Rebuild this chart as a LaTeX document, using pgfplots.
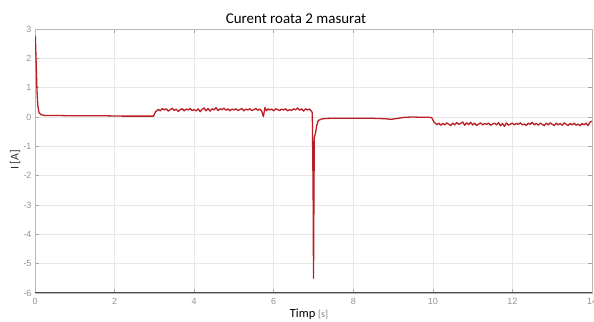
\documentclass[border=0pt]{standalone}
\usepackage{fontspec}
\setmainfont{Carlito}
\newfontfamily\tickfont{Liberation Sans}
\usepackage{pgfplots}
\pgfplotsset{compat=1.18}
\definecolor{curve}{RGB}{184,30,34}
\begin{document}
\begin{tikzpicture}
\begin{axis}[
  scale only axis, width=557bp, height=264bp,
  xmin=0, xmax=14, ymin=-6, ymax=3,
  xtick={0,2,...,14}, ytick={-6,-5,...,3},
  grid=major, grid style={gray!18, line width=0.5pt},
  axis line style={gray!55, line width=0.6pt},
  tick style={gray!70, line width=0.6pt},
  major tick length=4bp,
  tick align=inside,
  /pgf/number format/assume math mode=true,
  ticklabel style={font=\tickfont\fontsize{9}{9}\selectfont, text=gray!85},
  xticklabel style={yshift=-2bp},
]
\coordinate (sw) at (rel axis cs:0,0);
\coordinate (ne) at (rel axis cs:1,1);
\addplot[curve, line width=1.3bp, line join=round] coordinates {
(0,2.75)(0.01,2.72)(0.03,1.8)(0.05,0.9)(0.07,0.4)(0.1,0.15)(0.15,0.08)(0.25,0.05)
(0.6,0.05)(1.0,0.04)(1.4,0.045)(1.8,0.04)(2.2,0.03)(2.6,0.03)(2.98,0.03)
(3.03,0.18)(3.10,0.26)(3.15,0.21)(3.20,0.29)(3.25,0.24)(3.30,0.28)(3.35,0.20)(3.40,0.25)(3.45,0.30)
(3.50,0.22)(3.55,0.27)(3.60,0.19)(3.65,0.25)(3.70,0.28)(3.75,0.21)(3.80,0.27)(3.85,0.24)(3.90,0.29)
(3.95,0.22)(4.00,0.25)(4.05,0.21)(4.10,0.28)(4.15,0.18)(4.20,0.26)(4.25,0.31)(4.30,0.21)(4.35,0.29)
(4.40,0.20)(4.45,0.28)(4.50,0.24)(4.55,0.32)(4.60,0.22)(4.65,0.28)(4.70,0.25)(4.75,0.30)(4.80,0.23)
(4.85,0.28)(4.90,0.21)(4.95,0.27)(5.00,0.24)(5.05,0.28)(5.10,0.22)(5.15,0.25)(5.20,0.29)(5.25,0.21)
(5.30,0.27)(5.35,0.24)(5.40,0.28)(5.45,0.22)(5.50,0.25)(5.55,0.29)(5.60,0.23)(5.65,0.27)(5.70,0.19)
(5.74,0.02)(5.78,0.32)(5.82,0.21)(5.86,0.28)(5.90,0.24)(5.95,0.27)(6.00,0.21)(6.05,0.28)(6.10,0.25)
(6.15,0.22)(6.20,0.27)(6.25,0.24)(6.30,0.28)(6.35,0.21)(6.40,0.25)(6.45,0.22)(6.50,0.28)(6.55,0.24)
(6.60,0.31)(6.65,0.23)(6.70,0.28)(6.75,0.20)(6.80,0.28)(6.85,0.24)(6.90,0.27)(6.94,0.21)
(6.97,0.15)(6.99,-2.5)(7.00,-5.5)(7.01,-3.0)(7.02,-0.7)(7.05,-0.55)(7.08,-0.3)(7.12,-0.12)(7.2,-0.07)(7.3,-0.05)
(7.6,-0.04)(8.0,-0.04)(8.4,-0.04)(8.8,-0.06)(8.95,-0.08)(9.1,-0.05)(9.3,-0.01)(9.5,0.0)(9.7,-0.01)(9.9,-0.01)(9.97,-0.02)
(10.03,-0.18)(10.05,-0.20)(10.10,-0.26)(10.15,-0.21)(10.20,-0.28)(10.25,-0.22)(10.30,-0.27)(10.35,-0.20)
(10.40,-0.25)(10.45,-0.29)(10.50,-0.21)(10.55,-0.27)(10.60,-0.19)(10.65,-0.25)(10.70,-0.22)(10.75,-0.17)
(10.80,-0.28)(10.85,-0.20)(10.90,-0.26)(10.95,-0.18)(11.00,-0.27)(11.05,-0.21)(11.10,-0.29)(11.15,-0.24)
(11.20,-0.20)(11.25,-0.27)(11.30,-0.22)(11.35,-0.25)(11.40,-0.21)(11.45,-0.28)(11.50,-0.24)(11.55,-0.21)
(11.60,-0.27)(11.65,-0.19)(11.70,-0.30)(11.75,-0.22)(11.80,-0.32)(11.85,-0.20)(11.90,-0.28)(11.95,-0.24)
(12.00,-0.21)(12.05,-0.27)(12.10,-0.22)(12.15,-0.25)(12.20,-0.20)(12.25,-0.27)(12.30,-0.24)(12.35,-0.29)
(12.40,-0.21)(12.45,-0.25)(12.50,-0.18)(12.55,-0.27)(12.60,-0.22)(12.65,-0.28)(12.70,-0.21)(12.75,-0.25)
(12.80,-0.30)(12.85,-0.21)(12.90,-0.27)(12.95,-0.20)(13.00,-0.25)(13.05,-0.29)(13.10,-0.21)(13.15,-0.27)
(13.20,-0.22)(13.25,-0.28)(13.30,-0.20)(13.35,-0.25)(13.40,-0.29)(13.45,-0.22)(13.50,-0.27)(13.55,-0.21)
(13.60,-0.28)(13.65,-0.24)(13.70,-0.30)(13.75,-0.22)(13.80,-0.27)(13.85,-0.21)(13.90,-0.29)(13.95,-0.18)(14.00,-0.14)
};
\draw[gray!60!black, line width=1pt] (rel axis cs:0,0) -- (rel axis cs:1,0);
\end{axis}
\node[anchor=base, inner sep=0pt, font=\fontsize{15}{16}\selectfont] at ([xshift=-296bp, yshift=6bp]ne) {Curent roata 2 masurat};
\node[anchor=base, inner sep=0pt] at ([xshift=274bp, yshift=-25bp]sw) {\fontsize{12.5}{13}\selectfont Timp \textcolor{gray}{\fontsize{10}{11}\selectfont[s]}};
\node[rotate=90, inner sep=0pt, font=\fontsize{12}{13}\selectfont, text=black!80] at ([xshift=-20bp, yshift=133bp]sw) {I [A]};
\pgfresetboundingbox
\path[use as bounding box] ([xshift=-35bp, yshift=-29bp]sw) rectangle ([xshift=2bp, yshift=29bp]ne);
\end{tikzpicture}
\end{document}
